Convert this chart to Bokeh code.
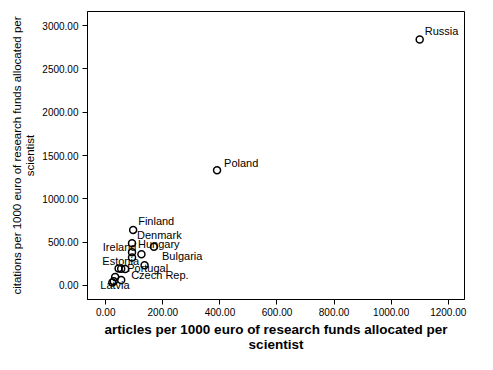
from bokeh.plotting import figure
from bokeh.models import ColumnDataSource, NumeralTickFormatter, FixedTicker, Range1d
from bokeh.core.properties import value
from bokeh.embed import file_html
from bokeh.resources import INLINE

# data
countries = ["Russia", "Poland", "Finland", "Denmark", "Hungary", "Bulgaria", "Ireland",
             "Estonia", "Portugal", "Czech Rep.", "Latvia", "", "", "", "", ""]
articles = [1100, 390, 96, 92, 92, 169, 125, 92, 68, 54, 23, 45, 54, 136, 33, 28]
citations = [2840, 1330, 641, 486, 384, 446, 359, 323, 188, 62, 33, 196, 192, 232, 98, 47]
x_ticks = [0, 200, 400, 600, 800, 1000, 1200]
y_ticks = [0, 500, 1000, 1500, 2000, 2500, 3000]

# label placement (styling): pixel offsets and alignment per label
label_dx = [5, 7, 5, 5, 6, 8, -5, 7, 2, 10, -12, 0, 0, 0, 0, 0]
label_dy = [-8, -7, -9, -8, -8, 9, -7, 4, -1, -5, 2, 0, 0, 0, 0, 0]
label_right = [False, False, False, False, False, False, True, True, False, False, False,
               False, False, False, False, False]

FONT = "Liberation Sans"

p = figure(width=477, height=354, output_backend="svg", toolbar_location=None,
           x_range=Range1d(-64, 1257), y_range=Range1d(-163, 3163),
           min_border_left=87, min_border_right=13, min_border_top=11, min_border_bottom=50)
p.background_fill_color = "white"
p.border_fill_color = "white"
p.outline_line_color = "black"
p.outline_line_width = 1
p.grid.visible = False

pts = ColumnDataSource(dict(x=articles, y=citations))
p.scatter("x", "y", source=pts, size=7, fill_color=None, line_color="black", line_width=1.5)

left = [i for i in range(len(countries)) if countries[i] and not label_right[i]]
right = [i for i in range(len(countries)) if countries[i] and label_right[i]]
for idx, align in ((left, "left"), (right, "right")):
    src = ColumnDataSource(dict(
        x=[articles[i] for i in idx], y=[citations[i] for i in idx],
        t=[countries[i] for i in idx], dx=[label_dx[i] for i in idx],
        dy=[label_dy[i] for i in idx]))
    p.text("x", "y", text="t", source=src, x_offset="dx", y_offset="dy",
           text_align=align, text_baseline="middle", text_font=value(FONT),
           text_font_size="11px", text_color="black")

for ax in (p.xaxis, p.yaxis):
    ax.formatter = NumeralTickFormatter(format="0.00")
    ax.major_tick_in = 0
    ax.major_tick_out = 5
    ax.minor_tick_line_color = None
    ax.axis_line_color = "black"
    ax.major_tick_line_color = "black"
    ax.major_label_text_font = FONT
    ax.major_label_text_font_size = "10px"
    ax.major_label_text_color = "black"
    ax.major_label_standoff = 4
    ax.axis_label_text_color = "black"

p.xaxis.ticker = FixedTicker(ticks=x_ticks)
p.yaxis.ticker = FixedTicker(ticks=y_ticks)
p.xaxis.major_label_standoff = 3

p.xaxis.axis_label = "articles per 1000 euro of research funds allocated per\nscientist"
p.xaxis.axis_label_text_font = FONT
p.xaxis.axis_label_text_font_style = "bold"
p.xaxis.axis_label_text_font_size = "13.5px"
p.xaxis.axis_label_text_line_height = 1.0
p.xaxis.axis_label_standoff = 3

p.yaxis.axis_label = "citations per 1000 euro of research funds allocated per\nscientist"
p.yaxis.axis_label_text_font = FONT
p.yaxis.axis_label_text_font_style = "normal"
p.yaxis.axis_label_text_font_size = "11.5px"
p.yaxis.axis_label_text_line_height = 1.1
p.yaxis.axis_label_standoff = 3

open("out.html", "w").write(file_html(p, INLINE))
